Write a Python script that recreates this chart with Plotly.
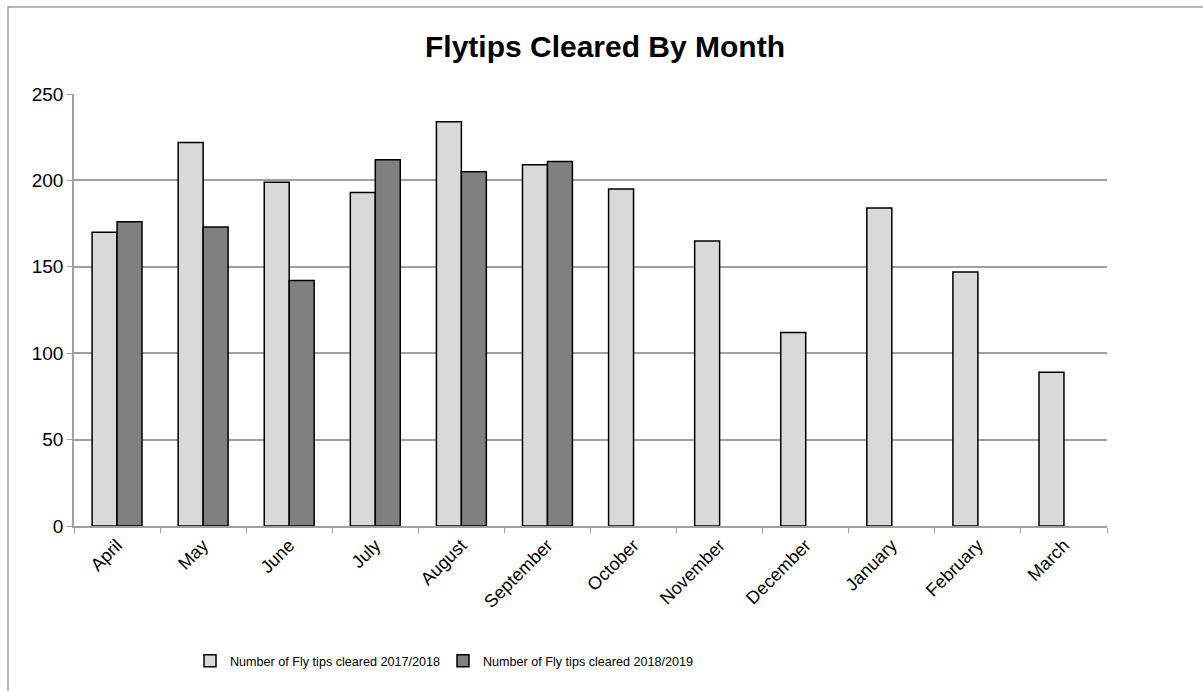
import plotly.graph_objects as go

months = ["April", "May", "June", "July", "August", "September", "October",
          "November", "December", "January", "February", "March"]
cleared_2017_2018 = [170, 222, 199, 193, 234, 209, 195, 165, 112, 184, 147, 89]
cleared_2018_2019 = [176, 173, 142, 212, 205, 211, None, None, None, None, None, None]
series_names = ["Number of Fly tips cleared 2017/2018", "Number of Fly tips cleared 2018/2019"]
y_ticks = [0, 50, 100, 150, 200, 250]

W, H = 1203, 691
L, R, T, B = 74, 96, 94, 165
pw, ph = W - L - R, H - T - B

font = "Liberation Sans, Arial, sans-serif"
fig = go.Figure()
fig.add_trace(go.Bar(x=months, y=cleared_2017_2018, name=series_names[0],
                     marker=dict(color="#d9d9d9", line=dict(color="#000000", width=1.5))))
fig.add_trace(go.Bar(x=months, y=cleared_2018_2019, name=series_names[1],
                     marker=dict(color="#808080", line=dict(color="#000000", width=1.5))))

fig.update_layout(
    width=W, height=H,
    margin=dict(l=L, r=R, t=T, b=B),
    paper_bgcolor="white", plot_bgcolor="white",
    barmode="group", bargap=0.42, bargroupgap=0,
    font=dict(family=font, size=12, color="#000000"),
    title=dict(text="<b>Flytips Cleared By Month</b>", x=605 / W, xanchor="center",
               y=1 - 46 / H, yanchor="middle", font=dict(size=30, family=font)),
    showlegend=True,
    legend=dict(orientation="h", x=(190 - L) / pw, xanchor="left",
                y=-(661 - T - ph) / ph, yanchor="middle",
                font=dict(size=12.6, family=font), itemwidth=30, traceorder="normal",
                entrywidth=208),
    shapes=[dict(type="rect", xref="paper", yref="paper",
                 x0=(8 - L) / pw, x1=(1215 - L) / pw,
                 y0=-(705 - T - ph) / ph, y1=1 + (T - 7) / ph,
                 line=dict(color="#a0a0a0", width=1.5), layer="below")],
)
fig.update_xaxes(showline=True, linecolor="#a0a0a0", linewidth=1.5,
                 ticks="outside", tickson="boundaries", ticklen=5, tickcolor="#a0a0a0",
                 tickangle=-45, tickfont=dict(size=18), showgrid=False)
fig.update_yaxes(range=[0, 250], tickvals=y_ticks, showline=True, linecolor="#a0a0a0",
                 linewidth=1.5, ticks="outside", ticklen=5, tickcolor="#a0a0a0",
                 showgrid=True, gridcolor="#a0a0a0", gridwidth=1.5,
                 tickfont=dict(size=19), zeroline=False)

fig.write_html("out.html")
